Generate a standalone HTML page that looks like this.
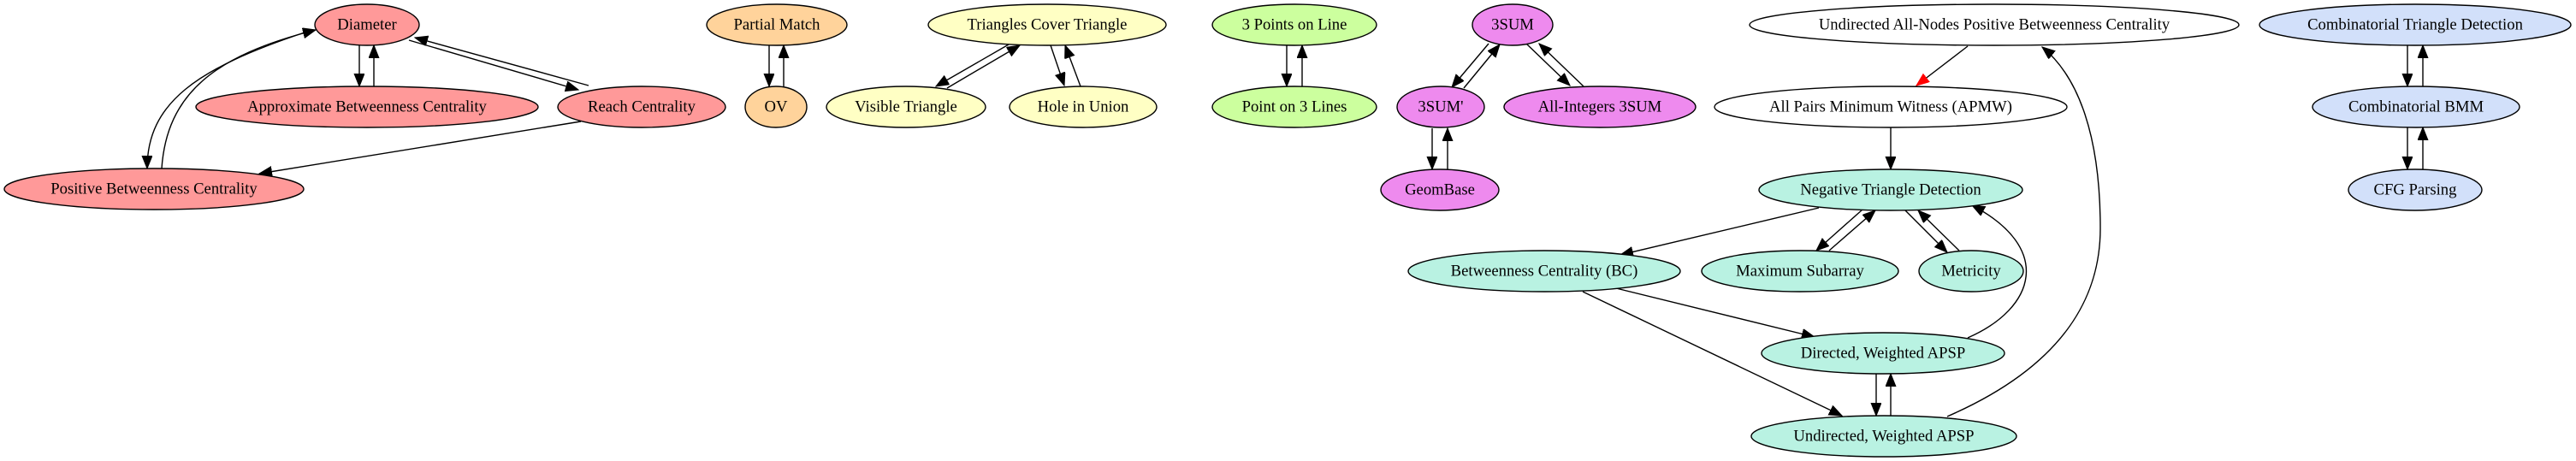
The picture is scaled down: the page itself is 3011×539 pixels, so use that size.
<!DOCTYPE html>
<html><head><meta charset="utf-8"><style>
html,body{margin:0;padding:0;background:#fff;}
svg{display:block}
text{font-family:"Liberation Serif","Times New Roman",serif;font-size:18.67px;text-anchor:middle;dominant-baseline:central;fill:#000}
ellipse{stroke:#000;stroke-width:1.4}
path{fill:none;stroke:#000;stroke-width:1.4}
</style></head><body>
<svg width="3011" height="539" viewBox="0 0 3011 539" xmlns="http://www.w3.org/2000/svg">
<defs>
<marker id="a" markerUnits="userSpaceOnUse" markerWidth="18" markerHeight="14" refX="15" refY="6" orient="auto"><polygon points="0,0 15,6 0,12" fill="#000" stroke="#000" stroke-width="1"/></marker>
<marker id="r" markerUnits="userSpaceOnUse" markerWidth="18" markerHeight="14" refX="15" refY="6" orient="auto"><polygon points="0,0 15,6 0,12" fill="#f00" stroke="#f00" stroke-width="1"/></marker>
</defs>
<g marker-end="url(#a)">
<path d="M420,53 L420,101"/>
<path d="M437,101 L437,53"/>
<path d="M478,47 L676,105"/>
<path d="M688,100 L485,44"/>
<path d="M356,38 C230,80 172,120 172,197"/>
<path d="M189,197 C195,110 250,65 369,35"/>
<path d="M679,142 L303,203"/>
<path d="M899,53 L899,101"/>
<path d="M916,101 L916,53"/>
<path d="M1179,52 L1094,101"/>
<path d="M1107,103 L1192,53"/>
<path d="M1228,53 L1244,100"/>
<path d="M1263,101 L1245,53"/>
<path d="M1504,53 L1504,101"/>
<path d="M1522,101 L1522,53"/>
<path d="M1740,51 L1697,102"/>
<path d="M1711,103 L1753,52"/>
<path d="M1784,51 L1835,100"/>
<path d="M1851,101 L1799,51"/>
<path d="M1674,150 L1674,198"/>
<path d="M1692,198 L1692,150"/>
<path d="M2210,149 L2210,198"/>
<path d="M2814,53 L2814,101"/>
<path d="M2832,101 L2832,53"/>
<path d="M2814,149 L2814,198"/>
<path d="M2832,198 L2832,149"/>
<path d="M2126,243 L1894,298"/>
<path d="M2177,245 L2123,293"/>
<path d="M2138,293 L2192,246"/>
<path d="M2227,246 L2276,295"/>
<path d="M2290,293 L2242,246"/>
<path d="M2300,395 C2380,360 2400,290 2305,240"/>
<path d="M1889,337 L2121,394"/>
<path d="M1850,341 L2153,486"/>
<path d="M2193,437 L2193,486"/>
<path d="M2210,486 L2210,437"/>
<path d="M2276,487 C2430,420 2455,330 2455,267 C2455,160 2430,90 2387,55"/>
</g>
<path d="M2300,54 L2240,100" stroke="#f00" marker-end="url(#r)"/>

<g fill="#ff9999">
<ellipse cx="429" cy="29" rx="61" ry="24"/>
<ellipse cx="429" cy="125" rx="200" ry="24"/>
<ellipse cx="750" cy="125" rx="98" ry="24"/>
<ellipse cx="180" cy="221" rx="175" ry="24"/>
</g>
<g fill="#ffd39b">
<ellipse cx="908" cy="29" rx="82" ry="24"/>
<ellipse cx="907" cy="125" rx="36" ry="24"/>
</g>
<g fill="#ffffc4">
<ellipse cx="1224" cy="29" rx="139" ry="24"/>
<ellipse cx="1059" cy="125" rx="93" ry="24"/>
<ellipse cx="1266" cy="125" rx="86" ry="24"/>
</g>
<g fill="#ccff9e">
<ellipse cx="1513" cy="29" rx="96" ry="24"/>
<ellipse cx="1513" cy="125" rx="96" ry="24"/>
</g>
<g fill="#ee8aee">
<ellipse cx="1768" cy="29" rx="47" ry="24"/>
<ellipse cx="1684" cy="125" rx="51" ry="24"/>
<ellipse cx="1870" cy="125" rx="112" ry="24"/>
<ellipse cx="1683" cy="222" rx="69" ry="24"/>
</g>
<g fill="#ffffff">
<ellipse cx="2331" cy="29" rx="286" ry="24"/>
<ellipse cx="2210" cy="125" rx="206" ry="24"/>
</g>
<g fill="#b9f2e2">
<ellipse cx="2210" cy="222" rx="154" ry="24"/>
<ellipse cx="1805" cy="317" rx="159" ry="24"/>
<ellipse cx="2104" cy="317" rx="115" ry="24"/>
<ellipse cx="2304" cy="317" rx="61" ry="24"/>
<ellipse cx="2201" cy="413" rx="142" ry="24"/>
<ellipse cx="2202" cy="510" rx="155" ry="24"/>
</g>
<g fill="#d2e0fa">
<ellipse cx="2823" cy="29" rx="182" ry="24"/>
<ellipse cx="2824" cy="125" rx="121" ry="24"/>
<ellipse cx="2823" cy="222" rx="78" ry="24"/>
</g>

<text x="429" y="29">Diameter</text>
<text x="429" y="125">Approximate Betweenness Centrality</text>
<text x="750" y="125">Reach Centrality</text>
<text x="180" y="221">Positive Betweenness Centrality</text>
<text x="908" y="29">Partial Match</text>
<text x="907" y="125">OV</text>
<text x="1224" y="29">Triangles Cover Triangle</text>
<text x="1059" y="125">Visible Triangle</text>
<text x="1266" y="125">Hole in Union</text>
<text x="1513" y="29">3 Points on Line</text>
<text x="1513" y="125">Point on 3 Lines</text>
<text x="1768" y="29">3SUM</text>
<text x="1684" y="125">3SUM'</text>
<text x="1870" y="125">All-Integers 3SUM</text>
<text x="1683" y="222">GeomBase</text>
<text x="2331" y="29">Undirected All-Nodes Positive Betweenness Centrality</text>
<text x="2210" y="125">All Pairs Minimum Witness (APMW)</text>
<text x="2210" y="222">Negative Triangle Detection</text>
<text x="1805" y="317">Betweenness Centrality (BC)</text>
<text x="2104" y="317">Maximum Subarray</text>
<text x="2304" y="317">Metricity</text>
<text x="2201" y="413">Directed, Weighted APSP</text>
<text x="2202" y="510">Undirected, Weighted APSP</text>
<text x="2823" y="29">Combinatorial Triangle Detection</text>
<text x="2824" y="125">Combinatorial BMM</text>
<text x="2823" y="222">CFG Parsing</text>
</svg>
</body></html>
